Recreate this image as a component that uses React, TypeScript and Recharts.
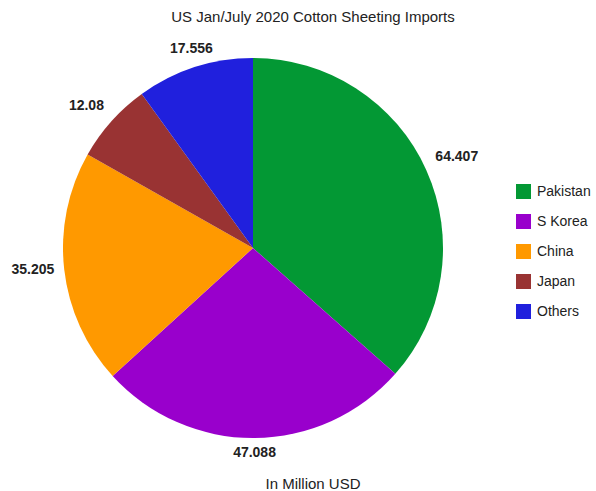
import { PieChart, Pie, Cell, Legend } from 'recharts'

document.body.style.margin = '0'

const countries = ['Pakistan', 'S Korea', 'China', 'Japan', 'Others']
const imports = [64.407, 47.088, 35.205, 12.08, 17.556]
const colors = ['#039834', '#9900cc', '#ff9900', '#993333', '#2020dd']

const data = countries.map((name, i) => ({ name, value: imports[i] }))

const FONT = 'Arial, "Liberation Sans", sans-serif'
const RAD = Math.PI / 180

// label sits just outside the rim, nudged up/down depending on side
function renderLabel(props: any) {
  const { cx, cy, midAngle, outerRadius, value } = props
  const r = outerRadius + 10
  const cos = Math.cos(-midAngle * RAD)
  const sin = Math.sin(-midAngle * RAD)
  const x = cx + r * cos
  const shift = Math.max(-1, Math.min(1, sin * 2.5))
  const y = cy + r * sin + 7 * shift - 3
  const anchor = Math.abs(cos) < 0.4 ? 'middle' : cos > 0 ? 'start' : 'end'
  return (
    <text
      x={x}
      y={y}
      textAnchor={anchor}
      dominantBaseline="central"
      fill="#222"
      fontSize={14}
      fontWeight="bold"
      fontFamily={FONT}
    >
      {value}
    </text>
  )
}

function renderLegend() {
  return (
    <div style={{ fontFamily: FONT, fontSize: 14, color: '#222' }}>
      {countries.map((c, i) => (
        <div key={c} style={{ display: 'flex', alignItems: 'center', height: 30 }}>
          <span
            style={{
              display: 'inline-block',
              width: 15,
              height: 15,
              background: colors[i],
              marginRight: 6,
            }}
          />
          <span>{c}</span>
        </div>
      ))}
    </div>
  )
}

export default function App() {
  return (
    <div style={{ position: 'relative', width: 596, height: 491, background: '#fff' }}>
      <PieChart width={596} height={491} margin={{ top: 0, right: 0, bottom: 0, left: 0 }}>
        <text
          x={313}
          y={16}
          textAnchor="middle"
          dominantBaseline="central"
          fill="#222"
          fontSize={15}
          fontFamily={FONT}
        >
          US Jan/July 2020 Cotton Sheeting Imports
        </text>
        <text
          x={313}
          y={483}
          textAnchor="middle"
          dominantBaseline="central"
          fill="#222"
          fontSize={15}
          fontFamily={FONT}
        >
          In Million USD
        </text>
        <Pie
          data={data}
          dataKey="value"
          nameKey="name"
          cx={253}
          cy={248}
          outerRadius={190}
          startAngle={90}
          endAngle={-270}
          stroke="none"
          label={renderLabel}
          labelLine={false}
          isAnimationActive={false}
        >
          {data.map((d, i) => (
            <Cell key={d.name} fill={colors[i]} />
          ))}
        </Pie>
        <Legend
          content={renderLegend}
          wrapperStyle={{ position: 'absolute', left: 516, top: 176, width: 80 }}
        />
      </PieChart>
    </div>
  )
}
